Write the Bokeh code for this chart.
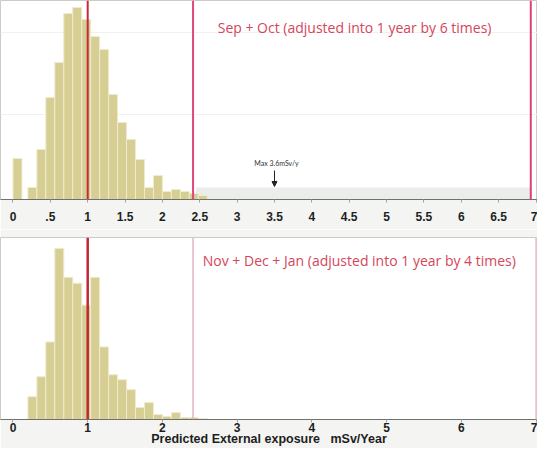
from bokeh.plotting import figure
from bokeh.layouts import column
from bokeh.models import FixedTicker, BoxAnnotation, Label, Arrow, NormalHead, Range1d
from bokeh.embed import file_html
from bokeh.resources import INLINE

# ---------------- data ----------------
bin_width = 0.12
sep_oct_bin_start = [0.00, 0.20, 0.32, 0.44, 0.56, 0.68, 0.80, 0.92, 1.04, 1.16, 1.28,
                     1.40, 1.52, 1.64, 1.76, 1.88, 2.00, 2.12, 2.24, 2.36, 2.48]
sep_oct_count = [41, 12, 50, 102, 137, 186, 192, 180, 163, 150, 105,
                 77, 60, 40, 12, 24, 8, 10, 8, 6, 4]

nov_jan_bin_start = [0.20, 0.32, 0.44, 0.56, 0.68, 0.80, 0.92, 1.04, 1.16, 1.28,
                     1.40, 1.52, 1.64, 1.76, 1.88, 2.00, 2.12, 2.24, 2.36, 2.48]
nov_jan_count = [23, 43, 78, 172, 143, 137, 115, 143, 73, 45,
                 40, 30, 12, 17, 5, 3, 7, 2, 2, 1]

top_ticks = [0, 0.5, 1, 1.5, 2, 2.5, 3, 3.5, 4, 4.5, 5, 5.5, 6, 6.5, 7]
top_tick_labels = ["0", ".5", "1", "1.5", "2", "2.5", "3", "3.5", "4", "4.5",
                   "5", "5.5", "6", "6.5", "7"]
bottom_ticks = [0, 1, 2, 3, 4, 5, 6, 7]

top_ref_lines = [1.0, 2.41, 6.93]
bottom_ref_lines = [1.0, 2.41, 7.0]
top_tail_range = [2.45, 6.93]
top_tail_level = 12
top_grid_counts = [85, 167]
max_marker_x = 3.5

top_title = "Sep + Oct (adjusted into 1 year by 6 times)"
bottom_title = "Nov + Dec + Jan (adjusted into 1 year by 4 times)"
max_text = "Max  3.6mSv/y"
x_label = "Predicted External exposure\u00a0\u00a0\u00a0mSv/Year"

# ---------------- style ----------------
BAR = "#d6ce92"
BAR_EDGE = "#eeebd0"
BORDER_BG = "#f4f5f3"
TXT_RED = "#d4465a"
TITLE_FONT = "Open Sans"
TICK_FONT = "Liberation Sans"
X_RANGE = (-0.167, 7.02)


def base_fig(height, y_max, ticks):
    p = figure(width=537, height=height, output_backend="svg", toolbar_location=None,
               x_range=Range1d(*X_RANGE), y_range=Range1d(0, y_max),
               min_border_left=0, min_border_right=0)
    p.yaxis.visible = False
    p.xgrid.grid_line_color = None
    p.ygrid.grid_line_color = None
    p.background_fill_color = "white"
    p.border_fill_color = BORDER_BG
    p.outline_line_color = "#c9ccc9"
    p.outline_line_width = 1
    ax = p.xaxis[0]
    ax.ticker = FixedTicker(ticks=ticks)
    ax.axis_line_color = "#6f716f"
    ax.axis_line_width = 1
    ax.major_tick_line_color = "#a0a2a0"
    ax.major_tick_out = 3
    ax.major_tick_in = 0
    ax.minor_tick_line_color = None
    ax.major_label_text_font = TICK_FONT
    ax.major_label_text_font_style = "bold"
    ax.major_label_text_font_size = "12px"
    ax.major_label_text_color = "#1e1e1e"
    return p


def add_lines(p, xs, colors, widths):
    for x, c, w in zip(xs, colors, widths):
        p.add_layout(BoxAnnotation(left=x, right=x, fill_alpha=0, line_color=c,
                                   line_alpha=1, line_width=w, level="overlay"))


# ---------------- top panel ----------------
top = base_fig(229, 199, top_ticks)
top.min_border_top = 0
top.min_border_bottom = 30
top.xaxis[0].major_label_standoff = 9
top.xaxis[0].major_label_overrides = {t: l for t, l in zip(top_ticks, top_tick_labels)}
top.ygrid.grid_line_color = "#f1f1f1"
top.ygrid.ticker = FixedTicker(ticks=top_grid_counts)

top.add_layout(BoxAnnotation(left=top_tail_range[0], right=top_tail_range[1], bottom=0,
                             top=top_tail_level, fill_color="#eaedea", fill_alpha=1,
                             line_alpha=0, level="underlay"))
top.quad(left=sep_oct_bin_start, right=[s + bin_width for s in sep_oct_bin_start],
         bottom=0, top=sep_oct_count, fill_color=BAR, line_color=BAR_EDGE, line_width=1)
add_lines(top, top_ref_lines, ["#c8283c", "#e0487a", "#e0407a"], [2, 2, 2])

top.add_layout(Label(x=2.74, y=172, text=top_title, text_font=TITLE_FONT,
                     text_font_size="14px", text_color=TXT_RED, text_baseline="middle"))
top.add_layout(Label(x=3.23, y=37, text=max_text, text_font="Lato",
                     text_font_size="7px", text_color="#333333", text_baseline="middle"))
top.add_layout(Arrow(x_start=max_marker_x, y_start=29, x_end=max_marker_x, y_end=13,
                     line_color="#222222", line_width=1,
                     end=NormalHead(size=5, fill_color="#222222", line_color="#222222")))

# ---------------- bottom panel ----------------
bot = base_fig(219, 183, bottom_ticks)
bot.min_border_top = 8
bot.min_border_bottom = 0
bot.xaxis[0].major_label_standoff = 0
bot.xaxis[0].axis_label = x_label
bot.xaxis[0].axis_label_standoff = -3
bot.xaxis[0].axis_label_text_font = TICK_FONT
bot.xaxis[0].axis_label_text_font_style = "bold"
bot.xaxis[0].axis_label_text_font_size = "12.5px"
bot.xaxis[0].axis_label_text_color = "#1e1e1e"

bot.quad(left=nov_jan_bin_start, right=[s + bin_width for s in nov_jan_bin_start],
         bottom=0, top=nov_jan_count, fill_color=BAR, line_color=BAR_EDGE, line_width=1)
add_lines(bot, bottom_ref_lines, ["#c02838", "#e3b3bf", "#e8c2cb"], [2.5, 1.5, 1.5])

bot.add_layout(Label(x=2.54, y=160, text=bottom_title, text_font=TITLE_FONT,
                     text_font_size="14px", text_color=TXT_RED, text_baseline="middle"))

layout = column(top, bot, spacing=0)
open("out.html", "w").write(file_html(layout, INLINE))
